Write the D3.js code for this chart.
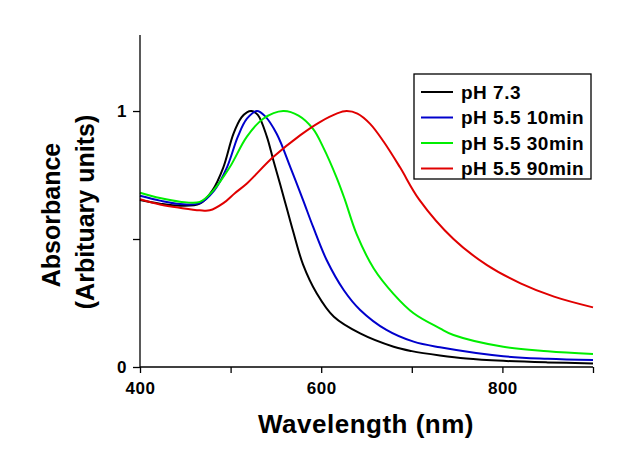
<!DOCTYPE html>
<html><head><meta charset="utf-8">
<script src="https://cdn.jsdelivr.net/npm/d3@7"></script>
<style>body{margin:0;background:#fff}svg{display:block}</style>
</head><body>
<svg id="c" width="627" height="473"></svg>
<script>
const seriesNames = ["pH 7.3", "pH 5.5 10min", "pH 5.5 30min", "pH 5.5 90min"];
const seriesColors = ["#000000", "#0000cc", "#00ee00", "#e00000"];
const xTicks = [400, 500, 600, 700, 800, 900];
const xTickLabels = ["400", "", "600", "", "800", ""];
const yTicks = [0, 0.5, 1];
const yTickLabels = ["0", "", "1"];

const ph73 = [[400,0.652],[422,0.638],[444,0.630],[466,0.638],[480,0.69],[492,0.78],[503,0.91],[512,0.975],[518,0.995],[523,1.0],[530,0.985],[540,0.90],[547,0.81],[555,0.71],[562,0.62],[569,0.53],[580,0.40],[595,0.288],[614,0.196],[643,0.131],[680,0.079],[700,0.062],[731,0.045],[760,0.033],[801,0.024],[850,0.018],[900,0.014]];
const ph55_10 = [[400,0.669],[422,0.65],[444,0.637],[466,0.64],[482,0.69],[496,0.78],[508,0.90],[518,0.97],[529,1.0],[538,0.98],[551,0.91],[566,0.78],[580,0.652],[591,0.548],[606,0.418],[625,0.30],[643,0.223],[672,0.145],[702,0.099],[731,0.077],[801,0.042],[850,0.032],[900,0.027]];
const ph55_30 = [[400,0.681],[422,0.66],[444,0.646],[466,0.645],[481,0.69],[499,0.78],[518,0.90],[536,0.97],[558,1.0],[575,0.982],[591,0.93],[602,0.86],[617,0.74],[626,0.655],[639,0.52],[658,0.385],[680,0.285],[702,0.21],[731,0.151],[746,0.125],[801,0.079],[850,0.062],[900,0.051]];
const ph55_90 = [[400,0.655],[422,0.635],[444,0.622],[466,0.612],[477,0.612],[492,0.64],[505,0.68],[518,0.717],[547,0.82],[577,0.906],[599,0.958],[617,0.99],[628,1.0],[640,0.99],[654,0.95],[669,0.88],[687,0.78],[708,0.655],[746,0.50],[783,0.398],[820,0.327],[857,0.275],[900,0.233]];
const seriesData = [ph73, ph55_10, ph55_30, ph55_90];

const svg = d3.select("#c");
const x = d3.scaleLinear().domain([400, 900]).range([140, 593]);
const y = d3.scaleLinear().domain([0, 1.297]).range([367, 35]);
const font = "'Liberation Sans', Arial, sans-serif";

const line = d3.line().x(d => x(d[0])).y(d => y(d[1])).curve(d3.curveCatmullRom.alpha(0.5));
seriesData.forEach((s, i) => {
  svg.append("path").datum(s).attr("d", line)
    .attr("fill", "none").attr("stroke", seriesColors[i]).attr("stroke-width", 2);
});

const xAxis = svg.append("g").attr("transform", "translate(0,367)")
  .call(d3.axisBottom(x).tickValues(xTicks).tickSize(6).tickPadding(9)
    .tickFormat((d, i) => xTickLabels[i]));
const yAxis = svg.append("g").attr("transform", "translate(140,0)")
  .call(d3.axisLeft(y).tickValues(yTicks).tickSize(7).tickPadding(6)
    .tickFormat((d, i) => yTickLabels[i]));
[xAxis, yAxis].forEach(a => {
  a.select(".domain").attr("stroke", "#000").attr("stroke-width", 1.3);
  a.selectAll(".tick line").attr("stroke", "#000").attr("stroke-width", 1.3);
  a.selectAll("text").attr("font-family", font).attr("font-weight", "bold")
    .attr("font-size", 17).attr("fill", "#000").attr("letter-spacing", 0.5);
});
yAxis.select(".domain").attr("d", `M0,${y(1.297)}V${y(0)}`);
xAxis.select(".domain").attr("d", `M${x(400)},0H${x(900)}`);

svg.append("text").attr("x", 366).attr("y", 433).attr("text-anchor", "middle")
  .attr("font-family", font).attr("font-weight", "bold").attr("font-size", 26)
  .attr("letter-spacing", 0.5).text("Wavelength (nm)");
svg.append("text").attr("transform", "translate(60,215) rotate(-90)").attr("text-anchor", "middle")
  .attr("font-family", font).attr("font-weight", "bold").attr("font-size", 25)
  .text("Absorbance");
svg.append("text").attr("transform", "translate(94,212) rotate(-90)").attr("text-anchor", "middle")
  .attr("font-family", font).attr("font-weight", "bold").attr("font-size", 25)
  .text("(Arbituary units)");

const lg = svg.append("g");
lg.append("rect").attr("x", 414).attr("y", 74).attr("width", 177).attr("height", 105)
  .attr("fill", "#fff").attr("stroke", "#000").attr("stroke-width", 1.3);
seriesNames.forEach((n, i) => {
  const yy = 92 + i * 25.5;
  lg.append("line").attr("x1", 421).attr("x2", 453).attr("y1", yy).attr("y2", yy)
    .attr("stroke", seriesColors[i]).attr("stroke-width", 2);
  lg.append("text").attr("x", 461).attr("y", yy).attr("dy", "0.36em")
    .attr("font-family", font).attr("font-weight", "bold").attr("font-size", 19)
    .attr("letter-spacing", 0.5).text(n);
});
</script>
</body></html>
